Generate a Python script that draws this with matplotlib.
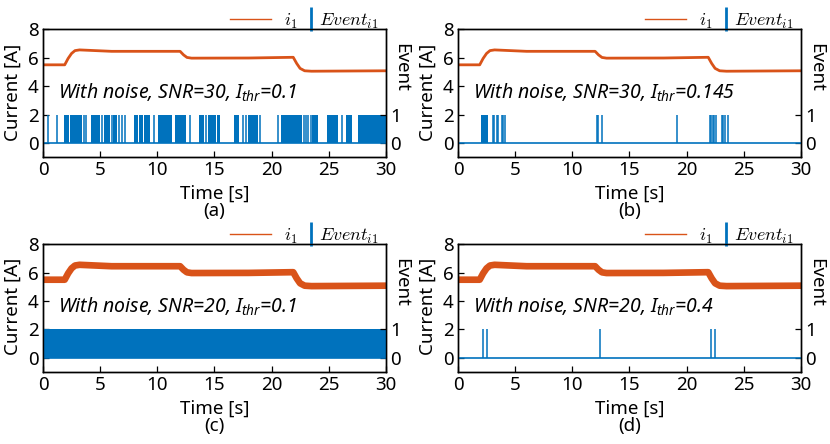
import numpy as np
import matplotlib
matplotlib.use('Agg')
import matplotlib.pyplot as plt
from matplotlib.lines import Line2D

plt.rcParams['font.family'] = ['Noto Sans', 'DejaVu Sans']
plt.rcParams['mathtext.fontset'] = 'custom'
plt.rcParams['mathtext.it'] = 'Noto Sans:italic'
plt.rcParams['mathtext.rm'] = 'Noto Sans'

# current i1 (same reference signal in all panels), breakpoints
cur_t = [0, 1.9, 2.2, 2.5, 2.8, 3.2, 6.0, 12.0, 12.3, 12.6, 13.0, 18.0, 21.9, 22.2, 22.5, 22.9, 23.5, 30]
cur_i = [5.5, 5.5, 5.95, 6.3, 6.5, 6.55, 6.45, 6.45, 6.2, 6.02, 5.97, 5.98, 6.03, 5.6, 5.25, 5.08, 5.05, 5.08]

# event spans (dense runs of events) and single events, seconds
spans_a = [(1.84, 2.30), (2.34, 2.77), (2.82, 3.44), (4.20, 4.60), (4.64, 5.01), (5.36, 5.83),
           (6.15, 6.47), (7.96, 8.35), (8.40, 8.75), (8.80, 9.33), (10.05, 10.38), (10.42, 11.25),
           (11.58, 11.90), (11.94, 12.15), (12.19, 12.48), (13.62, 14.08), (14.44, 15.16),
           (15.20, 15.49), (16.72, 17.15), (17.95, 18.84), (20.86, 21.15), (21.19, 21.62),
           (21.66, 22.69), (23.58, 24.10), (24.82, 25.34), (25.38, 25.84), (26.48, 27.00),
           (27.58, 28.40), (28.46, 30.0)]
spikes_a = [0.44, 1.22, 3.56, 3.80, 5.19, 6.03, 6.65, 6.90, 7.20, 9.70, 12.90, 14.28, 17.53,
            17.73, 18.99, 20.53, 22.80, 23.00, 23.20, 23.44, 26.20]

spans_b = [(2.00, 2.25), (2.30, 2.60)]
spikes_b = [3.05, 3.15, 3.40, 3.50, 3.85, 3.95, 4.08, 12.13, 12.25, 12.57, 19.13,
            22.05, 22.15, 22.30, 22.42, 22.60, 23.10, 23.20, 23.35, 23.62]

spans_c = [(0.0, 30.0)]
spikes_c = []

spans_d = []
spikes_d = [2.16, 2.51, 12.42, 22.13, 22.48]

snr = [30, 30, 20, 20]
ithr = ['0.1', '0.145', '0.1', '0.4']
panel_tags = ['(a)', '(b)', '(c)', '(d)']
time_ticks = [0, 5, 10, 15, 20, 25, 30]

ORANGE = '#D95319'
BLUE = '#0072BD'
FS = 13.5

fig = plt.figure(figsize=(8.3, 4.44), dpi=100)
boxes = [(0.0518, 0.646), (0.5518, 0.646), (0.0518, 0.162), (0.5518, 0.162)]
W, H = 0.413, 0.288

events = [(spans_a, spikes_a), (spans_b, spikes_b), (spans_c, spikes_c), (spans_d, spikes_d)]
noise_lw = {30: 2.0, 20: 4.8}

for k in range(4):
    ax = fig.add_axes([boxes[k][0], boxes[k][1], W, H])
    ax2 = ax.twinx()

    ax.plot(cur_t, cur_i, color=ORANGE, lw=noise_lw[snr[k]], solid_joinstyle='round')

    spans, spikes = events[k]
    ax2.hlines(0, 0, 30, color=BLUE, lw=1.2)
    if spans:
        ax2.broken_barh([(s, e - s) for s, e in spans], (0, 1), facecolor=BLUE, edgecolor='none')
    if spikes:
        ax2.vlines(spikes, 0, 1, color=BLUE, lw=1.1)

    ax.set_xlim(0, 30)
    ax.set_ylim(-1, 8)
    ax2.set_ylim(-0.5, 4)
    ax.set_xticks(time_ticks)
    ax.set_yticks([0, 2, 4, 6, 8])
    ax2.set_yticks([0, 1])
    ax.tick_params(direction='in', length=4.5, labelsize=FS, width=0.9, pad=3)
    ax2.tick_params(direction='in', length=4.5, labelsize=FS, width=0.9, pad=3)
    for a in (ax, ax2):
        for sp in a.spines.values():
            sp.set_linewidth(1.0)

    ax.text(-0.088, 0.51, 'Current [A]', transform=ax.transAxes, rotation=90,
            ha='center', va='center', fontsize=FS)
    ax.text(1.045, 0.70, 'Event', transform=ax.transAxes, rotation=270,
            ha='center', va='center', fontsize=FS)
    ax.text(0.5, -0.285, 'Time [s]', transform=ax.transAxes, ha='center', va='center', fontsize=FS)
    ax.text(0.5, -0.42, panel_tags[k], transform=ax.transAxes, ha='center', va='center', fontsize=FS)

    ax.text(1.3, 3.15, f'With noise, SNR={snr[k]}, $I_{{thr}}$={ithr[k]}',
            style='italic', fontsize=14, va='baseline', ha='left')

    # legend: two pieces so the event bar sits right next to its label
    leg_prop = {'size': 13, 'math_fontfamily': 'cm'}
    leg1 = ax.legend([Line2D([], [], color=ORANGE, lw=1.0)], [r'$i_1$'],
                     loc='lower right', bbox_to_anchor=(0.748, 0.975), frameon=False,
                     borderaxespad=0, borderpad=0.1, handlelength=2.3, handletextpad=0.7,
                     prop=leg_prop)
    ax.add_artist(leg1)
    ax.legend([Line2D([], [], color=BLUE, marker='|', markersize=17, markeredgewidth=2,
                      linestyle='none')], [r'$Event_{i1}$'],
              loc='lower right', bbox_to_anchor=(0.985, 0.975), frameon=False,
              borderaxespad=0, borderpad=0.1, handlelength=0.5, handletextpad=0.2, prop=leg_prop)

fig.savefig('out.png', dpi=100)
